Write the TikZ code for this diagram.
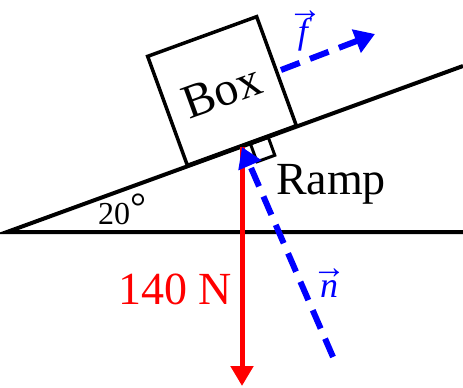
\documentclass[tikz,border=0pt]{standalone}
\usepackage{fontspec}
\setmainfont{Liberation Serif}
\usetikzlibrary{arrows.meta,calc}
\newcommand\vecl[2][19pt]{\setbox0\hbox{\textit{#2}}%
  \rlap{\hbox to\wd0{\hss\raisebox{#1}{\fontsize{34}{34}\selectfont →}\hss}}\box0}
\tikzset{
  ramp_line/.style={line width=4pt},
  box_sq/.style={draw,line width=3.5pt,minimum size=116pt,inner sep=0pt,
    rotate=20,font=\fontsize{48}{52}\selectfont},
  force_w/.style={red,line width=5pt,-{Triangle[length=20pt,width=22pt]}},
  force_v/.style={blue,line width=6pt,dash pattern=on 20pt off 11pt,
    -{Triangle[length=20pt,width=24pt]}},
  lbl/.style={font=\fontsize{46}{50}\selectfont},
  vec_lbl/.style={blue,font=\fontsize{36}{40}\selectfont,anchor=base},
}

\begin{document}
\begin{tikzpicture}[x=1pt,y=-1pt]
  \useasboundingbox (0,0) rectangle (463,388);
  % ground and ramp
  \coordinate (apex) at (7,232);
  \coordinate (gnd) at (463,232);
  \coordinate (top) at (463,66);
  \coordinate (touch) at (242,147);
  \draw[ramp_line] (gnd) -- (apex) -- (top);
  \node (angle) [font=\fontsize{32}{36}\selectfont] at (122,209)
    {20\raisebox{4pt}{\fontsize{40}{40}\selectfont °}};
  \node (ramp) [lbl] at (331,184) {Ramp};
  % the box
  \node (box) [box_sq] at (222,91) {Box};
  % right angle mark
  \coordinate (q0) at ($(touch)+(9*0.94,-9*0.342)$);
  \coordinate (q1) at ($(q0)+(19*0.94,-19*0.342)$);
  \coordinate (q2) at ($(q1)+(19*0.342,19*0.94)$);
  \coordinate (q3) at ($(q0)+(19*0.342,19*0.94)$);
  \draw[line width=3pt] (q0) -- (q1) -- (q2) -- (q3) -- cycle;
  % forces
  \coordinate (wtip) at (242,386);
  \coordinate (ntail) at (333,357);
  \coordinate (ftail) at (281,70);
  \coordinate (ftip) at (375,34);
  \draw[force_w] (touch) -- (wtip);
  \draw[force_v] (ntail) -- (touch);
  \draw[force_v] (ftail) -- (ftip);
  \node (wlbl) [lbl,red] at (175,289) {140 N};
  \node (nlbl) [vec_lbl] at (329,297) {\vecl{n}};
  \node (flbl) [vec_lbl] at (305,43) {\vecl[23pt]{f}};
\end{tikzpicture}
\end{document}
